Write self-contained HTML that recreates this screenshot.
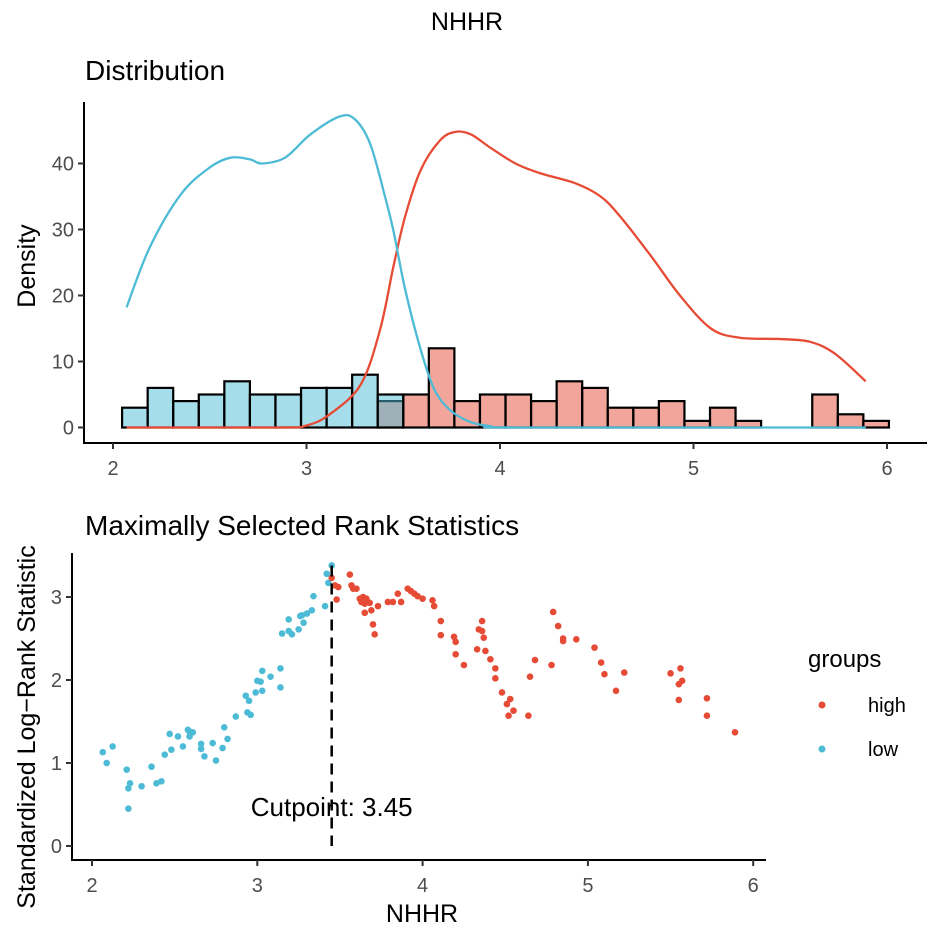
<!DOCTYPE html>
<html><head><meta charset="utf-8">
<style>
body{margin:0;background:#fff;}
svg{display:block;font-family:"Liberation Sans",sans-serif;}
.tick{fill:#4d4d4d;font-size:20px;}
</style></head>
<body>
<svg id="chart" width="935" height="933" viewBox="0 0 935 933">
<text x="467" y="30" text-anchor="middle" font-size="25">NHHR</text>
<text x="85" y="80" font-size="28">Distribution</text>
<text x="85" y="535" font-size="28">Maximally Selected Rank Statistics</text>
<text transform="translate(35,266) rotate(-90)" text-anchor="middle" font-size="25">Density</text>
<text transform="translate(35,727) rotate(-90)" text-anchor="middle" font-size="25">Standardized Log−Rank Statistic</text>
<text x="422" y="922" text-anchor="middle" font-size="25">NHHR</text>
<g id="topPanel"></g>
<g id="botPanel"></g>
<g>
<text x="808" y="667" font-size="24">groups</text>
<circle cx="822" cy="705" r="3.5" fill="#E64B35"/>
<text x="868" y="712" font-size="20">high</text>
<circle cx="822" cy="749" r="3.5" fill="#4DBBD5"/>
<text x="868" y="756" font-size="20">low</text>
</g>
</svg>
<script>
const NS="http://www.w3.org/2000/svg";
// ---- top histogram data ----
const binStart=2.047;
const binWidth=0.1321;
const lowCounts=[3,6,4,5,7,5,5,6,6,8,5,0,0,0,0,0,0,0,0,0,0,0,0,0,0,0,0,0,0,0];
const highCounts=[0,0,0,0,0,0,0,0,0,0,4,5,12,4,5,5,4,7,6,3,3,4,1,3,1,0,0,5,2,1];
const lowDensX=[2.07,2.19,2.35,2.5,2.61,2.71,2.77,2.89,3.02,3.17,3.25,3.33,3.41,3.45,3.51,3.59,3.66,3.74,3.84,3.95,4.1,5.89];
const lowDensY=[18.2,27.3,35.3,39.4,40.9,40.6,40.0,40.9,44.4,47.1,46.7,42.9,34.5,29.7,20.9,11.8,5.8,2.7,0.9,0.2,0,0];
const highDensX=[2.07,2.86,3.0,3.12,3.28,3.38,3.45,3.51,3.59,3.69,3.77,3.85,3.95,4.08,4.21,4.39,4.52,4.62,4.78,4.93,5.09,5.24,5.45,5.6,5.73,5.89];
const highDensY=[0,0,0.3,2,6.5,14.8,24.5,32,39,43.5,44.8,44.4,42.4,40,38.5,37,35,32,26,20,15,13.6,13.4,13,11.2,7];
const topXTicks=[2,3,4,5,6];
const topYTicks=[0,10,20,30,40];
// ---- bottom scatter data ----
const lowX=[2.065,2.125,2.089,2.21,2.23,2.22,2.30,2.36,2.39,2.42,2.44,2.48,2.47,2.52,2.55,2.59,2.58,2.61,2.59,2.66,2.66,2.68,2.73,2.75,2.79,2.82,2.80,2.87,2.94,2.96,2.93,2.95,2.99,3.03,3.02,2.22,3.03,3.08,3.00,3.14,3.14,3.15,3.19,3.19,3.21,3.25,3.28,3.26,3.27,3.30,3.33,3.34,3.41,3.43,3.42,3.45];
const lowY=[1.13,1.20,1.00,0.92,0.755,0.695,0.72,0.955,0.755,0.78,1.10,1.16,1.35,1.32,1.20,1.38,1.40,1.37,1.32,1.23,1.17,1.08,1.24,1.03,1.18,1.29,1.43,1.56,1.61,1.58,1.81,1.75,1.85,1.87,1.98,0.45,2.11,2.04,1.99,1.91,2.14,2.56,2.59,2.73,2.55,2.61,2.69,2.77,2.78,2.80,2.84,3.01,2.89,3.17,3.28,3.38];
const highX=[3.45,3.47,3.49,3.48,3.56,3.57,3.58,3.60,3.62,3.64,3.66,3.63,3.65,3.68,3.69,3.65,3.73,3.70,3.71,3.79,3.82,3.87,3.85,3.91,3.93,3.95,3.97,4.00,4.06,4.07,4.11,4.11,4.19,4.20,4.20,4.25,4.36,4.34,4.36,4.37,4.33,4.38,4.41,4.44,4.44,4.48,4.51,4.53,4.55,4.52,4.64,4.65,4.68,4.78,4.79,4.82,4.85,4.85,4.93,5.04,5.08,5.10,5.17,5.22,5.50,5.56,5.57,5.55,5.55,5.72,5.72,5.89];
const highY=[3.23,3.14,3.12,2.97,3.27,3.14,3.10,3.10,2.98,3.00,2.98,2.94,2.92,2.93,2.84,2.81,2.89,2.67,2.55,2.94,2.94,2.94,3.04,3.10,3.07,3.04,3.01,2.98,2.96,2.89,2.71,2.54,2.52,2.46,2.31,2.18,2.71,2.61,2.59,2.51,2.37,2.35,2.25,2.14,2.02,1.85,1.71,1.77,1.63,1.57,1.57,2.04,2.24,2.18,2.82,2.65,2.50,2.47,2.49,2.39,2.21,2.07,1.87,2.09,2.08,2.14,1.99,1.95,1.76,1.78,1.57,1.37];
const cutpoint=[3.45];
const botXTicks=[2,3,4,5,6];
const botYTicks=[0,1,2,3];

function mk(tag,attrs,parent){const e=document.createElementNS(NS,tag);for(const k in attrs)e.setAttribute(k,attrs[k]);parent.appendChild(e);return e;}
const tx=v=>113+(v-2)*193.5, ty=v=>427.5-v*6.6;
const bx=v=>92+(v-2)*165.3, by=v=>846-v*83;

const topG=document.getElementById('topPanel');
function bars(counts,color,name){
  counts.forEach((c,i)=>{
    const x0=tx(binStart+i*binWidth), x1=tx(binStart+(i+1)*binWidth);
    const r=mk('rect',{x:x0,y:ty(c),width:x1-x0,height:ty(0)-ty(c),fill:color,'fill-opacity':0.5,stroke:'#000','stroke-width':2.2},topG);
    
    
  });
}
bars(highCounts,'#E64B35','high');
bars(lowCounts,'#4DBBD5','low');
function curve(xs,ys,color,name){
  const p=xs.map((x,i)=>[tx(x),ty(ys[i])]);
  let d='M'+p[0][0]+','+p[0][1];
  for(let i=0;i<p.length-1;i++){
    const p0=p[Math.max(0,i-1)],p1=p[i],p2=p[i+1],p3=p[Math.min(p.length-1,i+2)];
    const c1=[p1[0]+(p2[0]-p0[0])/6,p1[1]+(p2[1]-p0[1])/6],c2=[p2[0]-(p3[0]-p1[0])/6,p2[1]-(p3[1]-p1[1])/6];
    d+=` C${c1[0]},${Math.min(c1[1],427.5)} ${c2[0]},${Math.min(c2[1],427.5)} ${p2[0]},${p2[1]}`;
  }
  const e=mk('path',{d:d,fill:'none',stroke:color,'stroke-width':2.3},topG);
  
  
}
curve(highDensX,highDensY,'#E64B35','high-density-curve');
curve(lowDensX,lowDensY,'#4DBBD5','low-density-curve');
let a=mk('path',{d:'M84,102 V443 H927',fill:'none',stroke:'#000','stroke-width':2},topG);


topXTicks.forEach(v=>{
  mk('line',{x1:tx(v),x2:tx(v),y1:443,y2:449,stroke:'#333','stroke-width':2},topG);
  const t=mk('text',{x:tx(v),y:475,'text-anchor':'middle',class:'tick'},topG);t.textContent=v;
  
  
});
topYTicks.forEach(v=>{
  mk('line',{x1:78,x2:84,y1:ty(v),y2:ty(v),stroke:'#333','stroke-width':2},topG);
  const t=mk('text',{x:74,y:ty(v)+7,'text-anchor':'end',class:'tick'},topG);t.textContent=v;
  
  
});
const botG=document.getElementById('botPanel');
lowX.forEach((x,i)=>{
  const c=mk('circle',{cx:bx(x),cy:by(lowY[i]),r:3.3,fill:'#4DBBD5'},botG);
  
  
});
highX.forEach((x,i)=>{
  const c=mk('circle',{cx:bx(x),cy:by(highY[i]),r:3.3,fill:'#E64B35'},botG);
  
  
});
const cl=mk('line',{x1:bx(cutpoint[0]),x2:bx(cutpoint[0]),y1:by(3.38),y2:by(0),stroke:'#000','stroke-width':2.5,'stroke-dasharray':'11,7'},botG);


const ct=mk('text',{x:bx(cutpoint[0]),y:816,'text-anchor':'middle','font-size':26},botG);
ct.textContent='Cutpoint: '+cutpoint[0].toFixed(2);


let b=mk('path',{d:'M72,553 V860 H766',fill:'none',stroke:'#000','stroke-width':2},botG);


botXTicks.forEach(v=>{
  mk('line',{x1:bx(v),x2:bx(v),y1:860,y2:866,stroke:'#333','stroke-width':2},botG);
  const t=mk('text',{x:bx(v),y:892,'text-anchor':'middle',class:'tick'},botG);t.textContent=v;
  
  
});
botYTicks.forEach(v=>{
  mk('line',{x1:66,x2:72,y1:by(v),y2:by(v),stroke:'#333','stroke-width':2},botG);
  const t=mk('text',{x:62,y:by(v)+7,'text-anchor':'end',class:'tick'},botG);t.textContent=v;
  
  
});
</script>
</body></html>
